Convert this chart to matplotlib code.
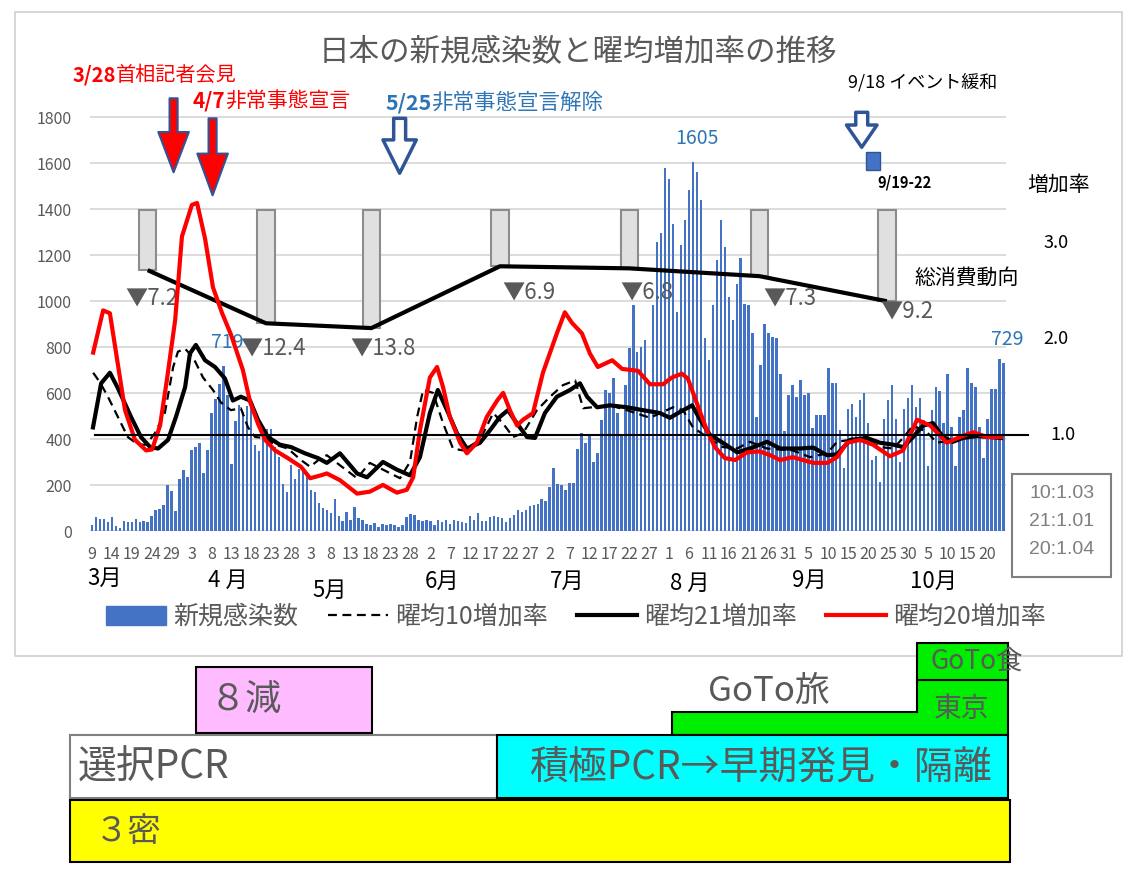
import numpy as np
import pandas as pd
import matplotlib
matplotlib.use("Agg")
import matplotlib.pyplot as plt
from matplotlib.patches import Rectangle, Polygon, Patch
from matplotlib.lines import Line2D

plt.rcParams["font.family"] = ["Noto Sans CJK JP", "DejaVu Sans"]

# 新規感染数 (2020-03-09 .. 2020-10-24)
START = "2020-03-09"
cases_mar = [26, 59, 52, 54, 41, 63, 20, 15, 44, 39, 40, 53, 40, 43, 38, 65, 93, 96, 112, 200, 173, 87, 225]
cases_apr = [266, 235, 352, 366, 383, 252, 351, 515, 576, 639, 719, 590, 290, 480, 550, 520, 545, 555, 374, 350,
             403, 442, 445, 367, 323, 204, 168, 287, 225, 270]
cases_may = [273, 258, 178, 168, 123, 99, 91, 77, 139, 65, 45, 84, 48, 103, 55, 48, 29, 26, 33, 19,
             29, 26, 29, 26, 19, 26, 62, 72, 70, 48, 45]
cases_jun = [48, 45, 26, 48, 41, 48, 30, 48, 45, 41, 36, 65, 48, 77, 45, 45, 62, 65, 59, 55,
             41, 55, 70, 91, 84, 91, 109, 113, 117, 138]
cases_jul = [130, 193, 273, 204, 200, 178, 207, 207, 355, 425, 381, 413, 302, 338, 483, 613, 599, 664, 512, 421,
             635, 795, 983, 780, 802, 831, 642, 983, 1259, 1295, 1578]
cases_aug = [1530, 1335, 954, 1244, 1353, 1483, 1605, 1563, 1440, 838, 744, 983, 1179, 1353, 1237, 1019, 918,
             1077, 1186, 990, 983, 860, 497, 722, 903, 860, 845, 838, 683, 437, 590]
cases_sep = [635, 584, 657, 592, 599, 447, 505, 505, 505, 710, 645, 645, 440, 273, 533, 552, 494, 570, 599, 468,
             309, 325, 215, 486, 570, 635, 486, 302, 533, 577]
cases_oct = [635, 541, 577, 483, 283, 526, 625, 610, 468, 683, 454, 283, 494, 526, 710, 645, 625, 454, 316, 486,
             616, 616, 747, 729]
cases = cases_mar + cases_apr + cases_may + cases_jun + cases_jul + cases_aug + cases_sep + cases_oct
labelled_days = [33, 151, 229]

# 曜均増加率 (day index from START, ratio)
r10_days = [0.3, 2.0, 4.0, 6.5, 9.0, 11.6, 13.6, 15.8, 18.3, 20.4, 21.6, 23.4, 25.4, 27.9, 30.4, 32.4, 34.9,
            37.4, 39.2, 41.0, 43.5, 46.0, 49.2, 52.5, 54.8, 57.5, 59.0, 63.1, 66.6, 69.8, 73.1, 77.4, 79.9,
            81.7, 83.2, 85.7, 88.2, 90.7, 93.2, 97.5, 100.8, 103.3, 105.8, 108.3, 111.8, 115.1, 118.3, 121.4,
            123.4, 130.2, 134.4, 140.2, 146.0, 148.5, 151.0, 154.5, 158.5, 162.1, 165.3, 169.6, 176.1, 180.4,
            184.7, 187.2, 190.5, 194.7, 198.0, 201.3, 203.8, 206.3, 209.8, 212.3, 216.3, 220.6, 223.9, 228.1]
r10_vals = [1.65, 1.55, 1.40, 1.19, 0.98, 0.90, 0.90, 1.02, 1.23, 1.71, 1.87, 1.90, 1.81, 1.60, 1.47, 1.34, 1.26,
            1.28, 1.08, 0.98, 0.97, 0.90, 0.86, 0.74, 0.67, 0.76, 0.79, 0.66, 0.55, 0.71, 0.64, 0.55, 0.72,
            1.19, 1.47, 1.44, 1.125, 0.86, 0.84, 0.95, 1.23, 1.12, 0.98, 1.02, 1.26, 1.40, 1.52, 1.57,
            1.28, 1.31, 1.26, 1.18, 1.29, 1.26, 1.08, 0.98, 0.875, 0.86, 0.93, 0.86, 0.84, 0.77,
            0.81, 0.93, 0.95, 0.95, 0.875, 0.86, 0.97, 1.10, 1.03, 0.92, 0.95, 1.00, 0.98, 0.98]

r21_days = [0.25, 2.3, 4.5, 6.5, 9.8, 12.3, 14.6, 16.6, 19.1, 21.1, 23.4, 24.6, 26.1, 28.4, 30.9, 33.4, 35.4,
            37.4, 39.7, 41.7, 44.2, 47.2, 50.0, 53.5, 56.8, 59.0, 62.3, 66.6, 69.1, 73.1, 76.6, 79.9, 82.4,
            84.9, 86.9, 89.2, 91.7, 94.2, 97.5, 100.0, 102.5, 104.5, 106.8, 109.3, 111.3, 113.8, 116.8, 120.1,
            122.6, 124.4, 126.9, 130.2, 134.4, 138.4, 142.7, 145.2, 147.7, 150.8, 152.8, 155.3, 158.5, 162.1,
            165.3, 169.6, 172.9, 177.9, 181.2, 184.7, 187.2, 190.5, 194.7, 198.0, 201.3, 203.8, 206.3, 208.8,
            211.3, 213.8, 216.3, 218.8, 222.4, 225.6, 228.4]
r21_vals = [1.08, 1.54, 1.65, 1.49, 1.19, 0.98, 0.875, 0.86, 0.95, 1.19, 1.50, 1.85, 1.94, 1.78, 1.71, 1.59, 1.36,
            1.40, 1.36, 1.16, 0.98, 0.90, 0.875, 0.81, 0.76, 0.71, 0.81, 0.60, 0.56, 0.72, 0.64, 0.58, 0.77,
            1.23, 1.47, 1.26, 1.02, 0.86, 0.92, 1.05, 1.19, 1.26, 1.12, 0.98, 0.97, 1.23, 1.40, 1.47,
            1.54, 1.40, 1.29, 1.31, 1.29, 1.26, 1.23, 1.18, 1.24, 1.31, 1.16, 1.00, 0.92, 0.82,
            0.86, 0.93, 0.86, 0.86, 0.87, 0.79, 0.80, 0.95, 0.97, 0.92, 0.90, 0.875, 0.98, 1.10,
            1.125, 0.98, 0.93, 0.97, 0.99, 0.98, 0.97]

r20_days = [0.3, 2.8, 4.5, 8.3, 10.8, 13.6, 15.1, 17.1, 18.8, 20.9, 22.6, 25.1, 26.4, 28.4, 30.4, 32.7, 34.9,
            37.9, 39.7, 41.7, 43.5, 46.0, 49.2, 52.5, 54.8, 57.5, 59.0, 62.3, 66.6, 69.8, 73.1, 76.6, 79.1,
            80.7, 82.4, 84.9, 86.7, 88.2, 89.9, 92.5, 94.2, 96.7, 99.2, 101.8, 103.3, 105.0, 106.8, 108.3,
            110.8, 113.3, 116.8, 118.8, 120.6, 123.1, 125.1, 127.1, 130.7, 133.2, 137.2, 140.2, 143.5, 145.7,
            148.2, 149.7, 152.0, 154.5, 156.5, 159.0, 161.6, 164.6, 167.8, 170.4, 172.9, 176.1, 181.2, 184.7,
            187.2, 189.7, 193.0, 196.2, 200.5, 203.8, 207.3, 210.6, 214.8, 218.1, 221.4, 224.9, 228.4]
r20_vals = [1.86, 2.30, 2.27, 1.26, 0.95, 0.84, 0.85, 1.10, 1.57, 2.20, 3.07, 3.40, 3.42, 3.05, 2.54, 2.27, 2.05,
            1.68, 1.35, 1.12, 0.95, 0.84, 0.76, 0.67, 0.55, 0.58, 0.60, 0.53, 0.39, 0.41, 0.48, 0.40, 0.43,
            0.56, 1.05, 1.60, 1.71, 1.50, 1.19, 0.92, 0.81, 0.92, 1.19, 1.36, 1.44, 1.26, 1.10, 1.16,
            1.23, 1.65, 2.06, 2.28, 2.17, 2.06, 1.85, 1.71, 1.78, 1.69, 1.67, 1.53, 1.53, 1.60,
            1.64, 1.59, 1.33, 1.05, 0.875, 0.76, 0.74, 0.82, 0.83, 0.79, 0.74, 0.77, 0.71, 0.71,
            0.77, 0.92, 0.95, 0.90, 0.78, 0.84, 1.16, 1.10, 0.92, 0.98, 1.03, 0.98, 0.98]

# 総消費動向 (on the case scale) and its decline labels
cons_days = [14.0, 43.7, 70.2, 102.5, 135.0, 167.7, 199.7]
cons_vals = [1135, 904, 883, 1152, 1143, 1109, 1000]
cons_drop = ["7.2", "12.4", "13.8", "6.9", "6.8", "7.3", "9.2"]
cons_box_top = 1395
drop_label_pos = [(8.5, 1013), (37.2, 796), (64.8, 796), (103.0, 1039), (132.7, 1039), (168.8, 1013), (198.0, 957)]

latest_ratio = ["10:1.03", "21:1.01", "20:1.04"]
month_names = ["3月", "4 月", "5月", "6月", "7月", "8 月", "9月", "10月"]

days = np.arange(len(cases))
dates = pd.date_range(START, periods=len(cases))

GRAY = "#595959"
BLUE = "#4472C4"
DKBLUE = "#2F5597"
LBLUE = "#2E75B6"

W, H = 1129, 877
fig = plt.figure(figsize=(W / 100, H / 100), dpi=100)

deco = fig.add_axes([0, 0, 1, 1])
deco.set_xlim(0, W)
deco.set_ylim(H, 0)
deco.axis("off")
deco.set_zorder(0)


def frac(x0, y0, x1, y1):
    return [x0 / W, 1 - y1 / H, (x1 - x0) / W, (y1 - y0) / H]


ax = fig.add_axes(frac(90, 99, 1006, 531))
ax2 = ax.twinx()
ax.set_zorder(1)
ax2.set_zorder(2)
ax.patch.set_visible(False)
ax2.patch.set_visible(False)

ax.set_xlim(-0.5, 229.65)
ax.set_ylim(0, 1880)
ax2.set_ylim(0, 4.504)
ax.set_yticks(range(0, 1801, 200))
ax.grid(axis="y", color="#D9D9D9", lw=1.3)
ax.set_axisbelow(True)
for a in (ax, ax2):
    for s in a.spines.values():
        s.set_visible(False)
ax2.set_yticks([])
ax.tick_params(axis="y", length=0, pad=13, labelsize=11.5, labelcolor=GRAY)
ax.set_xticks(days[::5])
ax.set_xticklabels([str(d.day) for d in dates[::5]])
ax.tick_params(axis="x", length=0, pad=11, labelsize=11.5, labelcolor=GRAY)

# bars
ax.bar(days, cases, width=0.62, color=BLUE, zorder=2)
for d in labelled_days:
    ax.annotate(str(cases[d]), xy=(d, cases[d]), xytext=(3, 17), textcoords="offset points",
                ha="center", va="center", fontsize=14, color=LBLUE, zorder=6)

# consumption boxes, line and labels
for d, v in zip(cons_days, cons_vals):
    ax.add_patch(Rectangle((d - 2.2, v), 4.4, cons_box_top - v, fc="#E0E0E0", ec="#8C8C8C", lw=1.5, zorder=3))
ax.plot(cons_days, cons_vals, color="black", lw=3, zorder=4, solid_capstyle="butt")
for (lx, ly), t in zip(drop_label_pos, cons_drop):
    ax.text(lx, ly, "▼" + t, ha="left", va="center", fontsize=16, color=GRAY, zorder=5)

# ratio lines
ax2.plot(r10_days, r10_vals, color="black", lw=1.6, ls=(0, (4, 2.5)), zorder=3)
ax2.plot(r21_days, r21_vals, color="black", lw=3, zorder=4)
ax2.plot(r20_days, r20_vals, color="red", lw=3, zorder=5)
ax2.plot([0.75, 235.2], [1, 1], color="black", lw=1.5, clip_on=False, zorder=6)

yt = ax2.get_yaxis_transform()
for v in (3.0, 2.0):
    ax2.text(1.0546, v, f"{v:.1f}", transform=yt, ha="center", va="center", fontsize=13, color="black")
ax2.text(1.062, 1.0, "1.0", transform=yt, ha="center", va="center", fontsize=13, color="black")


# arrows
def arrow(day, y_from, y_to, fc, hl, hw, tw, lw):
    ax.annotate("", xy=(day, y_to), xytext=(day, y_from), annotation_clip=False,
                arrowprops=dict(arrowstyle=f"simple,head_length={hl},head_width={hw},tail_width={tw}",
                                fc=fc, ec=DKBLUE, lw=lw, shrinkA=0, shrinkB=0, mutation_scale=10),
                zorder=7)


arrow(20.5, 1883, 1561, "red", 2.9, 2.2, 0.58, 1.5)
arrow(30.3, 1796, 1461, "red", 3.0, 2.2, 0.58, 1.5)
arrow(77.3, 1796, 1557, "white", 2.4, 2.4, 0.86, 2.5)
arrow(193.4, 1822, 1670, "white", 1.6, 2.2, 0.86, 2.5)
ax.add_patch(Rectangle((194.5, 1570), 3.5, 78, fc=BLUE, ec=DKBLUE, lw=1, zorder=7))


def two_part(x, y, head, tail, size, color):
    # bold date followed by the event text, placed right after the date
    t = deco.text(x, y, head, ha="left", va="center", fontsize=size, color=color, fontweight="bold")
    deco.annotate(tail, xy=(1, 0.5), xycoords=t, ha="left", va="center", fontsize=size, color=color)


# texts in pixel space
deco.add_patch(Rectangle((15, 12), 1107, 644, fill=False, ec="#D0D0D0", lw=1.2))
deco.text(578, 53, "日本の新規感染数と曜均増加率の推移", ha="center", va="center", fontsize=22, color=GRAY)
two_part(73, 75, "3/28", "首相記者会見", 14.5, "red")
two_part(193, 101, "4/7", "非常事態宣言", 15, "red")
two_part(385, 103, "5/25", "非常事態宣言解除", 15.5, LBLUE)
deco.text(848, 82, "9/18 イベント緩和", ha="left", va="center", fontsize=13, color="black")
deco.text(905, 183, "9/19-22", ha="center", va="center", fontsize=10.5, color="black", fontweight="bold")
deco.text(967, 278, "総消費動向", ha="center", va="center", fontsize=15, color="black")
deco.text(1059, 185, "増加率", ha="center", va="center", fontsize=15, color="black")

deco.add_patch(Rectangle((1012, 474), 99, 103, fc="white", ec="#7F7F7F", lw=1.5))
for i, t in enumerate(latest_ratio):
    deco.text(1062, 494 + 27.5 * i, t, ha="center", va="center", fontsize=14, color="#7F7F7F",
              family=["Liberation Sans", "DejaVu Sans"])

month_px = [(105, 578), (228, 580), (330, 590), (442, 581), (567, 581), (690, 583), (809, 580), (933, 581)]
for (mx, my), m in zip(month_px, month_names):
    deco.text(mx, my, m, ha="center", va="center", fontsize=16, color="black")

# legend
handles = [Patch(fc=BLUE, ec=BLUE),
           Line2D([], [], color="black", lw=1.6, ls=(0, (4, 2.5))),
           Line2D([], [], color="black", lw=3),
           Line2D([], [], color="red", lw=3)]
fig.legend(handles, ["新規感染数", "曜均10増加率", "曜均21増加率", "曜均20増加率"],
           loc="center", bbox_to_anchor=(576 / W, 1 - 617 / H), ncol=4, frameon=False, fontsize=18,
           labelcolor=GRAY, handlelength=2.4, handleheight=0.8, handletextpad=0.3, columnspacing=1.15)

# policy boxes under the chart
deco.add_patch(Rectangle((196, 667), 176, 66, fc="#FFBBFF", ec="black", lw=1.5))
deco.text(210, 700, "８減", ha="left", va="center", fontsize=26, color=GRAY)
deco.add_patch(Polygon([(672, 735), (672, 712), (917, 712), (917, 680), (1008, 680), (1008, 735)],
                       closed=True, fc="#00EE00", ec="black", lw=1.5))
deco.add_patch(Rectangle((917, 643), 91, 37, fc="#00EE00", ec="black", lw=1.5))
deco.text(769, 691, "GoTo旅", ha="center", va="center", fontsize=25, color=GRAY)
deco.text(962, 709, "東京", ha="center", va="center", fontsize=20, color=GRAY)
deco.text(930, 661, "GoTo食", ha="left", va="center", fontsize=19, color=GRAY)
deco.add_patch(Rectangle((70, 735), 427, 63, fc="white", ec="#808080", lw=1.5))
deco.text(78, 768, "選択PCR", ha="left", va="center", fontsize=28, color=GRAY)
deco.add_patch(Rectangle((497, 735), 511, 63, fc="#00FFFF", ec="black", lw=1.5))
deco.text(760, 768, "積極PCR→早期発見・隔離", ha="center", va="center", fontsize=28, color=GRAY)
deco.add_patch(Rectangle((70, 800), 940, 62, fc="#FFFF00", ec="black", lw=1.5))
deco.text(95, 832, "３密", ha="left", va="center", fontsize=24, color=GRAY)

fig.savefig("out.png", dpi=100)
